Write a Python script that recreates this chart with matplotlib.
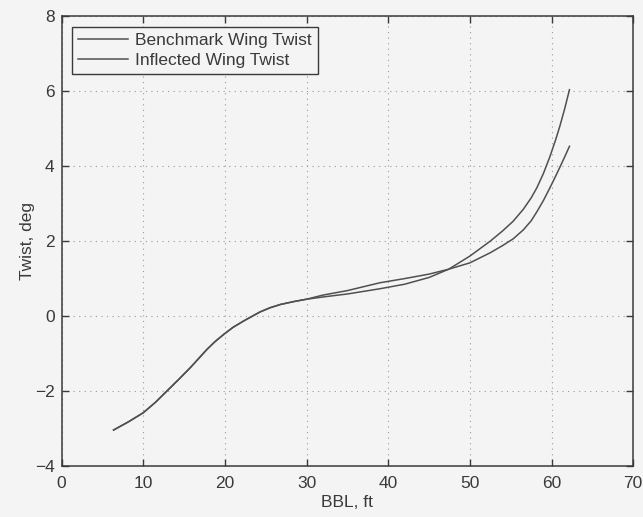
import matplotlib
matplotlib.use("Agg")
import matplotlib.pyplot as plt

# Spanwise wing twist distributions
bbl_shared = [6.37, 8.2, 10.0, 11.5, 12.9, 14.3, 15.75, 16.8, 17.8, 18.8, 19.85, 21.0,
              22.3, 23.3, 24.3, 25.5, 26.8, 28.5, 30.0]
twist_shared = [-3.04, -2.82, -2.58, -2.30, -2.00, -1.70, -1.38, -1.13, -0.89, -0.68, -0.49,
                -0.30, -0.13, -0.01, 0.11, 0.22, 0.31, 0.39, 0.45]

bbl_bench = [32.0, 35.0, 39.0, 42.0, 45.0, 47.4, 50.0, 52.5, 54.0, 55.3, 56.55, 57.5,
             58.2, 59.0, 59.8, 60.5, 61.0, 61.6, 62.2]
twist_bench = [0.51, 0.59, 0.73, 0.85, 1.03, 1.25, 1.60, 2.00, 2.27, 2.53, 2.85, 3.15,
               3.42, 3.80, 4.25, 4.70, 5.05, 5.52, 6.04]

bbl_infl = [32.0, 35.0, 39.0, 42.0, 45.0, 47.4, 50.0, 52.5, 54.0, 55.3, 56.55, 57.5,
            58.2, 59.0, 59.8, 60.5, 61.0, 61.6, 62.2]
twist_infl = [0.56, 0.68, 0.89, 1.00, 1.12, 1.25, 1.42, 1.69, 1.88, 2.06, 2.30, 2.54,
              2.78, 3.08, 3.42, 3.73, 3.96, 4.24, 4.53]

x_ticks = [0, 10, 20, 30, 40, 50, 60, 70]
y_ticks = [-4, -2, 0, 2, 4, 6, 8]

plt.rcParams['font.family'] = ['Liberation Sans', 'DejaVu Sans']

bg = '#f4f4f4'
ink = '#3a3a3a'
line_c = '#505050'
fs = 12.5

fig = plt.figure(figsize=(6.43, 5.17), dpi=100, facecolor=bg)
ax = fig.add_axes([0.0957, 0.0986, 0.889, 0.870], facecolor=bg)

ax.plot(bbl_shared + bbl_bench, twist_shared + twist_bench, color=line_c, lw=1.1,
        label='Benchmark Wing Twist')
ax.plot(bbl_shared + bbl_infl, twist_shared + twist_infl, color=line_c, lw=1.1,
        label='Inflected Wing Twist')

ax.set_xlim(0, 70)
ax.set_ylim(-4, 8)
ax.set_xticks(x_ticks)
ax.set_yticks(y_ticks)
ax.set_xticklabels([str(v) for v in x_ticks])
ax.set_yticklabels(['\u2212' + str(-v) if v < 0 else str(v) for v in y_ticks])

ax.grid(True, color='#9a9a9a', linestyle=(0, (1, 4)), linewidth=0.8)
ax.tick_params(direction='in', length=5, width=1.0, color=ink, labelcolor=ink,
               labelsize=fs, top=True, right=True)
ax.tick_params(axis='x', pad=7)
ax.tick_params(axis='y', pad=5)
for s in ax.spines.values():
    s.set_color(ink)
    s.set_linewidth(1.1)

ax.set_xlabel('BBL, ft', fontsize=fs, color=ink, labelpad=3)
ax.set_ylabel('Twist, deg', fontsize=fs, color=ink, labelpad=0)

leg = ax.legend(loc='upper left', fontsize=fs, frameon=True, fancybox=False,
                edgecolor=ink, facecolor=bg, framealpha=1, handlelength=2.9,
                handletextpad=0.4, borderpad=0.35, labelspacing=0.3,
                borderaxespad=0.6)
leg.get_frame().set_linewidth(1.0)
for t in leg.get_texts():
    t.set_color(ink)

fig.savefig('out.png', dpi=100, facecolor=bg)
